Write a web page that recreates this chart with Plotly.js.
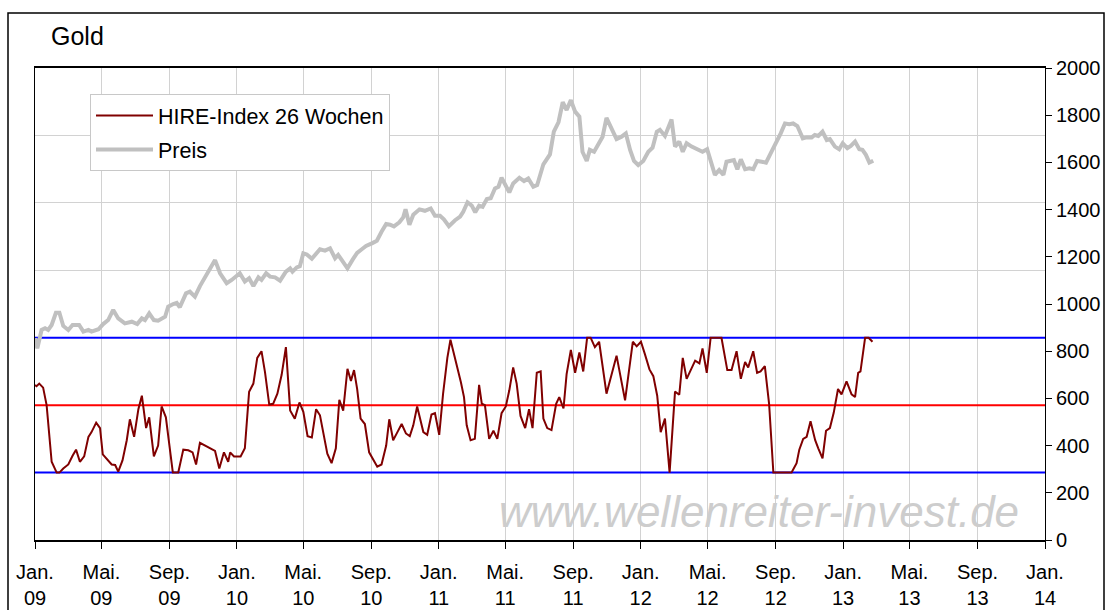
<!DOCTYPE html>
<html><head><meta charset="utf-8">
<script src="https://cdn.plot.ly/plotly-3.0.1.min.js"></script>
<style>body{margin:0;background:#fff}#chart{width:1112px;height:610px}</style>
</head><body><div id="chart"></div>
<script>
// x-axis ticks (every four months)
const tickDates = ['2009-01-01','2009-05-01','2009-09-01','2010-01-01','2010-05-01','2010-09-01',
  '2011-01-01','2011-05-01','2011-09-01','2012-01-01','2012-05-01','2012-09-01',
  '2013-01-01','2013-05-01','2013-09-01','2014-01-01'];
const tickLabels = ['Jan.<br>09','Mai.<br>09','Sep.<br>09','Jan.<br>10','Mai.<br>10','Sep.<br>10',
  'Jan.<br>11','Mai.<br>11','Sep.<br>11','Jan.<br>12','Mai.<br>12','Sep.<br>12',
  'Jan.<br>13','Mai.<br>13','Sep.<br>13','Jan.<br>14'];

// Gold price (weeks since 1 Jan 2009, USD)
const priceWeeks = [0,0.6,1.7,2.6,3.4,4.3,5.4,6.3,7.3,8.6,9.7,11.4,12.5,13.8,14.6,16.4,17.6,18.9,20.2,21.5,
  23.2,25.0,26.4,27.6,28.4,29.5,30.7,31.8,33.6,34.4,35.7,36.6,37.4,39.0,40.0,41.3,42.6,44.3,46.5,47.8,
  49.5,50.8,52.9,54.2,55.3,56.4,57.7,58.5,59.7,60.7,62.0,63.3,64.8,65.9,66.5,67.6,68.4,69.3,70.2,71.5,
  72.6,73.6,74.9,76.2,77.5,78.3,79.2,80.7,82.0,83.2,84.4,85.5,87.0,88.3,89.5,90.7,91.7,92.7,94.1,95.1,
  95.7,96.7,97.7,99.3,100.7,102.2,103.3,104.6,105.6,106.9,108.5,109.8,110.6,111.7,112.8,113.7,114.7,115.6,116.7,117.7,
  118.8,119.7,120.5,121.6,122.5,123.5,125.1,126.3,127.4,128.7,129.7,131.3,133.0,134.0,135.2,136.3,137.3,138.4,139.5,140.6,
  141.4,142.5,143.3,144.4,145.5,146.6,147.6,148.9,150.2,151.5,152.6,153.7,154.7,155.8,157.1,158.4,159.5,160.6,161.4,162.7,
  163.6,164.4,165.3,166.4,167.3,168.3,169.6,170.9,172.4,173.6,174.8,175.6,176.7,177.8,178.6,179.7,180.5,181.4,182.3,183.4,
  184.5,185.5,186.5,187.7,188.8,190.0,191.4,192.6,193.7,194.8,195.8,196.9,198.3,199.3,200.6,201.4,202.3,203.4,204.5,205.3,
  206.6,207.7,208.6,209.8,210.7,211.8,212.9,213.7,214.6,215.5,216.5];
const priceValues = [855,812,890,897,890,911,963,963,907,890,911,911,883,890,883,893,915,932,975,939,
  918,925,915,939,932,960,932,929,946,989,1000,1005,986,1045,1052,1031,1076,1123,1186,1130,
  1088,1102,1130,1095,1109,1076,1113,1102,1130,1116,1113,1099,1137,1151,1137,1155,1160,1215,1210,1192,
  1215,1232,1226,1236,1194,1208,1187,1151,1187,1217,1232,1246,1257,1268,1306,1339,1336,1329,1346,1367,
  1401,1336,1378,1401,1395,1405,1374,1374,1359,1330,1355,1370,1391,1431,1417,1389,1417,1412,1445,1448,
  1490,1497,1535,1504,1473,1511,1535,1521,1532,1497,1504,1592,1634,1730,1770,1855,1822,1864,1815,1794,
  1645,1606,1653,1645,1681,1709,1789,1747,1699,1709,1723,1653,1606,1589,1606,1645,1662,1730,1738,1712,
  1745,1782,1667,1688,1645,1681,1667,1656,1645,1656,1589,1547,1568,1547,1603,1607,1610,1571,1613,1571,
  1575,1571,1606,1603,1599,1638,1681,1723,1765,1762,1765,1754,1702,1706,1706,1716,1712,1730,1695,1699,
  1667,1656,1681,1660,1670,1688,1656,1653,1632,1599,1607];

// HIRE-Index 26 Wochen (0..100)
const hireWeeks = [0,0.4,1.1,2.1,3.0,3.7,4.3,5.6,6.3,7.3,8.6,9.7,10.6,11.6,12.7,13.8,14.6,15.8,16.8,17.5,
  18.7,19.8,20.7,21.5,22.6,23.7,24.5,25.6,26.7,27.6,28.7,29.5,30.7,31.8,32.7,33.8,35.6,37.0,38.3,39.6,
  40.7,41.6,42.6,43.9,45.2,46.5,47.6,48.8,49.9,50.4,51.4,53.1,54.2,55.3,56.4,57.4,58.5,59.4,60.5,61.5,
  62.6,63.7,64.8,65.9,67.1,68.3,69.3,70.4,71.5,72.6,73.6,74.5,75.5,76.6,77.7,78.6,79.6,80.7,81.6,82.4,
  83.2,84.1,85.2,86.3,87.4,88.4,89.5,90.7,91.5,92.5,93.6,94.7,95.8,96.8,97.7,98.7,100.3,101.3,102.4,103.3,
  104.4,105.4,106.5,107.3,108.0,109.1,110.0,110.8,111.5,112.5,113.6,114.7,115.4,116.2,117.3,118.4,119.4,120.5,121.6,122.5,
  123.5,124.4,125.4,126.6,127.6,128.5,129.6,130.6,131.3,132.3,133.4,134.6,135.4,136.5,137.3,138.4,139.5,140.6,141.6,142.6,
  143.5,144.6,145.7,147.6,150.2,152.4,154.4,155.4,156.5,157.5,158.7,159.7,160.7,161.6,162.7,163.9,165.3,166.4,167.3,168.3,
  169.4,170.5,171.6,172.4,173.5,174.5,177.3,178.8,179.9,181.2,182.3,183.4,184.2,185.5,186.5,187.4,188.5,189.6,190.7,195.4,
  196.7,197.4,198.4,199.3,200.3,201.5,202.3,203.4,204.3,205.3,206.3,207.4,208.3,209.6,210.9,211.8,212.6,213.2,214.4,215.3,
  216.3];
const hireValues = [65,64,66,63,50,30,8,0,0,3,6,12.5,17,8,12,26.5,30,37,33,13.5,
  10,6,5.6,0.7,9,24,39.5,26.5,47,57,33,41,12,20,49,41,0,0,17,16.5,
  15,6,22,20,18,16,3,15,8,15,12,12,18,60,66,85,90,74.5,50.4,51,
  58.5,72.5,93,46,40,52,45,27,26,47,42.5,30,14,7,18,54,46,77,68,76,
  62,40,36,15,9,4.4,6,20,39.5,24,30,36,29,27,35,49,30,28,43,44,
  28,58.5,85,98.5,90.4,78,67,56,35,24,25,65,51,50,25,31,25,44,49,61,
  78,66,42,33,47,33,74,75,40,33,31.5,51,56,47.5,73,91,74,89,75,100,
  100,93,97,58.5,86.7,53.5,97,93.6,97,88,76.5,71.5,57,30,40,0,60,57.7,85,69.5,
  76,83,81,92,74,100,100,76,76,90,69.5,82,78,90,74,75,79,51,0,0,
  7,17,25,26.5,38,24,18,10.5,31,33,44.5,62,58,67.6,58,56,74,75,100,100,
  97];

// HIRE reference levels: lower band, middle, upper band
const levels = [0, 50, 100];
const xRange = ['2009-01-01', '2014-01-01'];

const t0 = Date.UTC(2009, 0, 1);
const toDate = w => new Date(t0 + w * 7 * 864e5).toISOString().slice(0, 19).replace('T', ' ');

const FONT = '"Liberation Sans", Arial, Helvetica, sans-serif';
const levelColor = ['#0000ff', '#ff0000', '#0000ff'];

const levelTraces = levels.map((v, i) => ({
  x: xRange, y: [v, v], yaxis: 'y', type: 'scatter', mode: 'lines', showlegend: false,
  line: {color: levelColor[i], width: 2}, hoverinfo: 'skip', cliponaxis: false
}));

const traces = levelTraces.concat([
  {x: hireWeeks.map(toDate), y: hireValues, yaxis: 'y', type: 'scatter', mode: 'lines',
   name: 'HIRE-Index 26 Wochen', legendgroup: 'a',
   line: {color: '#800000', width: 2}, hoverinfo: 'skip'},
  {x: priceWeeks.map(toDate), y: priceValues, yaxis: 'y2', type: 'scatter', mode: 'lines',
   name: 'Preis', legendgroup: 'b',
   line: {color: '#c0c0c0', width: 4}, hoverinfo: 'skip'}
]);

const shapes = [{type: 'rect', xref: 'paper', yref: 'paper',
  x0: (8 - 35) / 1010, x1: (1104 - 35) / 1010, y0: (540 - 640) / 472, y1: (540 - 13) / 472,
  line: {color: '#000', width: 1.5}, layer: 'above'}];

const layout = {
  width: 1112, height: 610,
  margin: {l: 35, r: 67, t: 68, b: 70},
  paper_bgcolor: '#fff', plot_bgcolor: '#fff',
  font: {family: FONT, color: '#000', size: 20},
  title: {text: 'Gold', x: 51 / 1112, xanchor: 'left', y: 1 - 36 / 610, yanchor: 'middle',
          font: {family: FONT, size: 25, color: '#000'}},
  showlegend: true,
  legend: {x: (90 - 35) / 1010, y: (540 - 94) / 472, xanchor: 'left', yanchor: 'top',
           bgcolor: '#fff', bordercolor: '#c8c8c8', borderwidth: 1, itemwidth: 57,
           tracegroupgap: 3,
           font: {family: FONT, size: 21.5, color: '#000'}, traceorder: 'grouped'},
  xaxis: {type: 'date', range: xRange, tickmode: 'array',
          tickvals: tickDates, ticktext: tickLabels, showgrid: true, gridcolor: '#d2d2d2', gridwidth: 1,
          ticks: 'outside', ticklen: 7, tickcolor: '#000', tickwidth: 1, ticklabelstandoff: 6,
          showline: true, linecolor: '#000', linewidth: 2, mirror: true, zeroline: false,
          tickfont: {family: FONT, size: 20, color: '#000'}, fixedrange: true},
  yaxis: {range: [-50, 300], tickmode: 'linear', tick0: 0, dtick: 50, showticklabels: false,
          ticks: '', showgrid: true, gridcolor: '#d2d2d2', gridwidth: 1, zeroline: false,
          showline: true, linecolor: '#000', linewidth: 1.5, fixedrange: true},
  yaxis2: {overlaying: 'y', side: 'right', range: [0, 2000], tickmode: 'linear', tick0: 0, dtick: 200,
           showgrid: false, zeroline: false, ticks: 'outside', ticklen: 6, tickcolor: '#000',
           showline: true, linecolor: '#000', linewidth: 1,
           tickfont: {family: FONT, size: 20, color: '#000'}, fixedrange: true},
  shapes: shapes,
  annotations: [{text: 'www.wellenreiter-invest.de', xref: 'paper', yref: 'paper',
                 x: (759 - 35) / 1010, y: (540 - 511) / 472, xanchor: 'center', yanchor: 'middle',
                 showarrow: false,
                 font: {family: FONT, size: 44, color: '#cdcdcd', style: 'italic'}}]
};

Plotly.newPlot('chart', traces, layout, {displayModeBar: false, staticPlot: true});
</script>
</body></html>
